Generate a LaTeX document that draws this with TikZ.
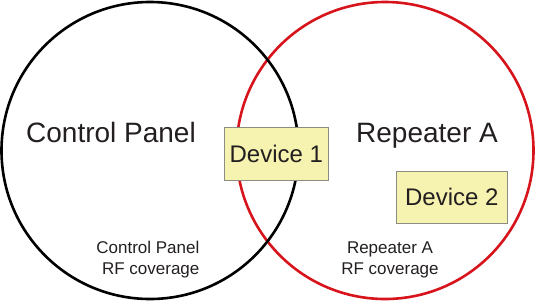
\documentclass[tikz,border=0pt]{standalone}
\usepackage{fontspec}
\setmainfont{Liberation Sans}
\definecolor{redc}{HTML}{D7141C}
\definecolor{boxfill}{HTML}{F6F3B0}
\definecolor{boxdraw}{HTML}{8C8C82}
\definecolor{txt}{HTML}{231F20}
\begin{document}
\begin{tikzpicture}[x=1pt,y=-1pt,
  zone/.style={line width=2.6pt},
  dev/.style={draw=boxdraw,fill=boxfill,line width=0.9pt,inner sep=0pt,font=\fontsize{24}{28}\selectfont,text=txt},
  big/.style={font=\fontsize{28}{32}\selectfont,text=txt,inner sep=0pt,anchor=base},
  small/.style={font=\fontsize{17}{21}\selectfont,text=txt,inner sep=0pt}]
\useasboundingbox (0,0) rectangle (535,301);
\draw[zone,redc] (385,150.5) coordinate (rac) circle[radius=148.5];
\draw[zone,black] (150,150.5) coordinate (cpc) circle[radius=148.5];
\node[big] (cp) at (111,142.7) {Control Panel};
\node[big] (ra) at (427,142.7) {Repeater A};
\node[dev,minimum width=103.5pt,minimum height=52.5pt] (d1) at (276.3,153.8) {Device 1};
\node[dev,minimum width=111.5pt,minimum height=52.5pt] (d2) at (451.8,197.2) {Device 2};
\node[small,align=right,anchor=base east] (cprf) at (199.6,274) {Control Panel\\RF coverage};
\node[small,align=center,anchor=base] (rarf) at (390,274) {Repeater A\\RF coverage};
\end{tikzpicture}
\end{document}
